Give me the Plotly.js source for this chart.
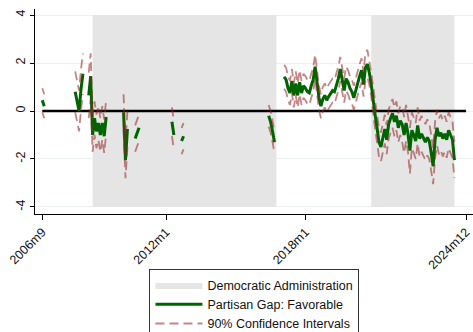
<!DOCTYPE html>
<html>
<head>
<meta charset="utf-8">
<script src="https://cdn.plot.ly/plotly-3.0.1.min.js"></script>
<style>html,body{margin:0;padding:0;background:#fff;}#chart{width:473px;height:332px;}</style>
</head>
<body>
<div id="chart"></div>
<script>
// ---- Data ----
// Month labels mark the start of each run of consecutive monthly estimates
const segStart = ["2006m9", "2008m2", "2008m9", "2010m3", "2010m9", "2012m4", "2012m9", "2016m6", "2017m2"];

const segGap = [
  [0.45, 0.2],
  [0.8, 0.35, 0.0, 0.9, 1.55],
  [0.65, 1.45, -1.0, -0.3, -0.85, -0.5, -1.0, -0.5, -1.05, -0.25],
  [-0.05, -2.05, -0.75],
  [-1.15, -0.95, -0.7],
  [-0.45, -1.0],
  [-1.25, -1.05],
  [-0.2, -0.45, -0.85, -1.3],
  [1.43, 1.3, 0.95, 0.75, 1.25, 0.65, 1.15, 0.65, 1.2, 0.75, 1.05, 0.95, 0.8, 0.75, 1.05, 1.3,
   1.85, 1.05, 0.55, 0.2, 0.5, 0.65, 0.45, 0.6, 0.7, 0.85, 0.8, 1.05, 1.35, 1.75, 1.2, 0.85,
   1.35, 1.2, 0.95, 0.8, 0.55, 0.9, 1.15, 1.45, 1.7, 1.1, 1.8, 1.95, 1.6, 1.1,
   0.4, -0.15, -0.7, -1.3, -1.5, -1.1, -0.75, -1.2, -0.55, -0.3, -0.1, -0.45, -0.2, -0.7, -0.4,
   -0.55, -1.0, -0.5, -0.95, -1.65, -0.8, -1.0, -1.25, -0.6, -1.15, -0.95, -1.1, -1.3, -1.1,
   -1.25, -1.75, -2.3, -1.2, -0.7, -1.05, -0.9, -1.15, -0.95, -1.2, -0.8, -1.0, -1.2, -2.05]
];

const segLow = [
  [-0.05, -0.3],
  [-0.05, -0.5, -0.85, 0.05, 0.7],
  [-0.3, 0.5, -1.7, -1.0, -1.55, -1.2, -1.7, -1.2, -1.75, -0.95],
  [-0.8, -2.8, -1.5],
  [-1.7, -1.5, -1.25],
  [-1.05, -1.6],
  [-1.8, -1.6],
  [-0.65, -0.9, -1.3, -1.75],
  [0.93, 0.8, 0.45, 0.25, 0.75, 0.15, 0.65, 0.15, 0.7, 0.25, 0.55, 0.45, 0.3, 0.25, 0.55, 0.8,
   1.35, 0.55, 0.05, -0.3, 0.0, 0.15, -0.05, 0.1, 0.2, 0.35, 0.3, 0.55, 0.85, 1.25, 0.7, 0.35,
   0.85, 0.7, 0.45, 0.3, 0.05, 0.4, 0.65, 0.95, 1.2, 0.6, 1.25, 1.4, 1.1, 0.6,
   -0.2, -0.75, -1.3, -1.9, -2.1, -1.7, -1.35, -1.8, -1.15, -0.9, -0.7, -1.05, -0.8, -1.3, -1.0,
   -1.3, -1.75, -1.25, -1.7, -2.6, -1.55, -1.75, -2.0, -1.35, -1.9, -1.7, -1.85, -2.05, -1.85,
   -2.0, -2.5, -3.05, -1.95, -1.45, -1.8, -1.65, -1.9, -1.7, -1.95, -1.55, -1.75, -1.95, -2.8]
];

const segHigh = [
  [0.95, 0.7],
  [1.65, 1.2, 0.85, 1.75, 2.4],
  [1.6, 2.4, -0.3, 0.4, -0.15, 0.2, -0.3, 0.2, -0.35, 0.45],
  [0.7, -1.3, 0.0],
  [-0.6, -0.4, -0.15],
  [0.15, -0.4],
  [-0.7, -0.5],
  [0.25, 0.0, -0.4, -0.85],
  [1.93, 1.8, 1.45, 1.25, 1.75, 1.15, 1.65, 1.15, 1.7, 1.25, 1.55, 1.45, 1.3, 1.25, 1.55, 1.8,
   2.35, 1.55, 1.05, 0.7, 1.0, 1.15, 0.95, 1.1, 1.2, 1.35, 1.3, 1.55, 1.85, 2.25, 1.7, 1.35,
   1.85, 1.7, 1.45, 1.3, 1.05, 1.4, 1.65, 1.95, 2.2, 1.6, 2.4, 2.55, 2.1, 1.6,
   1.0, 0.45, -0.1, -0.7, -0.9, -0.5, -0.15, -0.6, 0.05, 0.3, 0.5, 0.15, 0.4, -0.1, 0.2,
   0.2, -0.25, 0.25, -0.2, -0.7, -0.05, -0.25, -0.5, 0.15, -0.4, -0.2, -0.35, -0.55, -0.35,
   -0.5, -1.0, -1.55, -0.45, 0.05, -0.3, -0.15, -0.4, -0.2, -0.45, -0.05, -0.25, -0.45, -1.3]
];

// Democratic administrations (shaded)
const demStart = ["2008m11", "2020m11"];
const demEnd = ["2016m10", "2024m6"];

// Axis ticks
const xTickLabels = ["2006m9", "2012m1", "2018m1", "2024m12"];
const yTickVals = [-4, -2, 0, 2, 4];
const firstMonth = "2006m9";
const lastMonth = "2024m12";

// ---- Helpers ----
function monthIndex(label) {
  const parts = label.split("m").map(Number);
  return (parts[0] - 2006) * 12 + (parts[1] - 9);
}

function buildSeries(arrays) {
  const xs = [], ys = [];
  segStart.forEach((start, k) => {
    const s = monthIndex(start);
    arrays[k].forEach((v, i) => { xs.push(s + i); ys.push(v); });
    xs.push(null); ys.push(null);
  });
  return { x: xs, y: ys };
}

const gap = buildSeries(segGap);
const low = buildSeries(segLow);
const high = buildSeries(segHigh);

// Shading polygons
const shadeX = [], shadeY = [];
demStart.forEach((s, k) => {
  const a = monthIndex(s), b = monthIndex(demEnd[k]);
  shadeX.push(a, b, b, a, a, null);
  shadeY.push(-4, -4, 4, 4, -4, null);
});

const ciColor = "rgba(150,38,38,0.56)";
const font = "Liberation Sans, Arial, Helvetica, sans-serif";

const traces = [
  {
    x: shadeX, y: shadeY, type: "scatter", mode: "lines",
    fill: "toself", fillcolor: "#e5e5e5", line: { width: 0, color: "#e5e5e5" },
    name: "Democratic Administration", hoverinfo: "skip"
  },
  {
    x: [monthIndex(firstMonth), monthIndex(lastMonth)], y: [0, 0],
    type: "scatter", mode: "lines", line: { color: "#000", width: 2.6 },
    showlegend: false, hoverinfo: "skip"
  },
  {
    x: gap.x, y: gap.y, type: "scatter", mode: "lines",
    line: { color: "#006400", width: 3 }, connectgaps: false,
    name: "Partisan Gap: Favorable"
  },
  {
    x: low.x, y: low.y, type: "scatter", mode: "lines",
    line: { color: ciColor, width: 1.8, dash: "9px,5px" }, connectgaps: false,
    name: "90% Confidence Intervals", legendgroup: "ci"
  },
  {
    x: high.x, y: high.y, type: "scatter", mode: "lines",
    line: { color: ciColor, width: 1.8, dash: "9px,5px" }, connectgaps: false,
    name: "90% Confidence Intervals", legendgroup: "ci", showlegend: false
  }
];

const layout = {
  width: 473, height: 332,
  margin: { l: 35, r: 0, t: 9, b: 118, pad: 0, autoexpand: false },
  paper_bgcolor: "#fff", plot_bgcolor: "#fff",
  font: { family: font, size: 12, color: "#111" },
  showlegend: true,
  xaxis: {
    range: [-3.77, 222.6],
    tickvals: xTickLabels.map(monthIndex),
    ticktext: xTickLabels,
    tickangle: -45,
    ticks: "outside", ticklen: 5, tickcolor: "#000", tickwidth: 1,
    showgrid: false, zeroline: false, automargin: false,
    showline: true, linecolor: "#000", linewidth: 1,
    tickfont: { family: font, size: 12.5, color: "#111" }
  },
  yaxis: {
    range: [-4.292, 4.25],
    tickvals: yTickVals,
    ticktext: yTickVals.map(String),
    tickangle: -90,
    ticks: "outside", ticklen: 4, tickcolor: "#000", tickwidth: 1,
    showgrid: true, gridcolor: "#eaf1f2", gridwidth: 1,
    zeroline: false, automargin: false,
    showline: true, linecolor: "#000", linewidth: 1,
    tickfont: { family: font, size: 12.5, color: "#111" }
  },
  legend: {
    orientation: "v",
    x: 0.501, xanchor: "center",
    y: -0.27, yanchor: "top",
    bgcolor: "#fff", bordercolor: "#333", borderwidth: 1,
    font: { family: font, size: 12.5, color: "#111" },
    itemwidth: 47,
    traceorder: "normal"
  }
};

Plotly.newPlot("chart", traces, layout, { staticPlot: true, displayModeBar: false });
</script>
</body>
</html>
